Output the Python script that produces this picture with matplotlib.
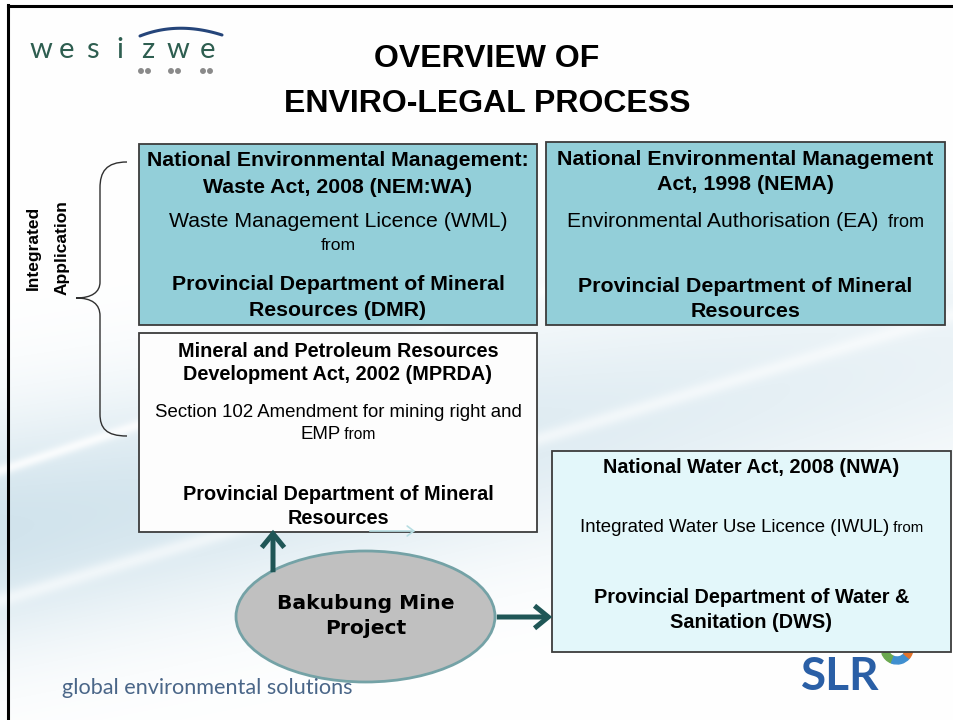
import numpy as np
import matplotlib
matplotlib.use("Agg")
import matplotlib.pyplot as plt
from matplotlib.patches import Rectangle, Ellipse, FancyArrowPatch, Wedge, PathPatch
from matplotlib.path import Path

# ---- slide text ----
title_lines = ["OVERVIEW OF", "ENVIRO-LEGAL PROCESS"]
side_label = ["Integrated", "Application"]

# (text, kind, small tail)
nemwa_lines = [("National Environmental Management:", "b", ""),
               ("Waste Act, 2008 (NEM:WA)", "b", ""),
               ("Waste Management Licence (WML)", "r", ""),
               ("from", "s", ""),
               ("Provincial Department of Mineral", "b", ""),
               ("Resources (DMR)", "b", "")]
nema_lines = [("National Environmental Management", "b", ""),
              ("Act, 1998 (NEMA)", "b", ""),
              ("Environmental Authorisation (EA)", "r", "  from"),
              ("Provincial Department of Mineral", "b", ""),
              ("Resources", "b", "")]
mprda_lines = [("Mineral and Petroleum Resources", "b", ""),
               ("Development Act, 2002 (MPRDA)", "b", ""),
               ("Section 102 Amendment for mining right and", "r", ""),
               ("EMP", "r", " from"),
               ("Provincial Department of Mineral", "b", ""),
               ("Resources", "b", "")]
nwa_lines = [("National Water Act, 2008 (NWA)", "b", ""),
             ("Integrated Water Use Licence (IWUL)", "r", " from"),
             ("Provincial Department of Water &", "b", ""),
             ("Sanitation (DWS)", "b", "")]
project_lines = ["Bakubung Mine", "Project"]
logo_letters = list("wesizwe")
footer = "global environmental solutions"

# ---- layout (pixels) ----
boxes = [
    # x0, y0, x1, y1, fill, lines, baselines, sizes(b, r, s)
    (139, 144, 537, 325, "#93cfd9", nemwa_lines, [166, 193, 227, 250, 290, 316], (15.3, 15.3, 12.6)),
    (546, 142, 945, 325, "#93cfd9", nema_lines, [165, 190, 227, 292, 317], (15.4, 15.2, 13.0)),
    (139, 333, 537, 532, "#fdfdfd", mprda_lines, [357, 380, 417, 439, 500, 524], (14.3, 13.4, 11.2)),
    (552, 451, 951, 652, "#e3f7fa", nwa_lines, [473, 532, 603, 628], (14.3, 13.4, 10.8)),
]

W, H = 954, 720
fig = plt.figure(figsize=(9.54, 7.2), dpi=100)
ax = fig.add_axes([0, 0, 1, 1])
ax.set_xlim(0, W)
ax.set_ylim(H, 0)
ax.axis("off")
renderer = fig.canvas.get_renderer()

# background tint
yy, xx = np.mgrid[0:H, 0:W]
c = 530 - 0.18 * xx
a = np.exp(-((yy - c) / 115.0) ** 2) * (1 - 0.55 * xx / W) * 0.9
streak = np.exp(-((yy - (470 - 0.33 * xx)) / 6.0) ** 2) + 0.7 * np.exp(-((yy - (600 - 0.3 * xx)) / 8.0) ** 2)
a = np.clip(a * (1 - 0.8 * streak), 0, 1)
tint = np.array([0.80, 0.88, 0.92])
img = 1 - a[..., None] * (1 - tint)
ax.imshow(img, extent=(0, W, H, 0), zorder=0, aspect="auto")

# slide frame
ax.plot([8, 8], [5, H], color="black", lw=2.2, zorder=1)
ax.plot([8, W], [5.5, 5.5], color="black", lw=2.2, zorder=1)

FONT = "Liberation Sans"


def put_line(cx, y, text, kind, tail, sizes):
    sb, sr, ss = sizes
    if kind == "b":
        kw = dict(fontsize=sb, fontweight="bold")
    elif kind == "r":
        kw = dict(fontsize=sr)
    else:
        kw = dict(fontsize=ss)
    if not tail:
        ax.text(cx, y, text, ha="center", va="baseline", family=FONT, zorder=5, **kw)
        return
    t1 = ax.text(0, y, text, ha="left", va="baseline", family=FONT, zorder=5, **kw)
    t2 = ax.text(0, y, tail, ha="left", va="baseline", family=FONT, fontsize=ss, zorder=5)
    w1 = t1.get_window_extent(renderer).width
    w2 = t2.get_window_extent(renderer).width
    x0 = cx - (w1 + w2) / 2
    t1.set_x(x0)
    t2.set_x(x0 + w1)


for x0, y0, x1, y1, fill, lines, bases, sizes in boxes:
    ax.add_patch(Rectangle((x0, y0), x1 - x0, y1 - y0, facecolor=fill,
                           edgecolor="#3c3c3c", lw=1.3, zorder=3))
    cx = (x0 + x1) / 2
    for (text, kind, tail), yb in zip(lines, bases):
        put_line(cx, yb, text, kind, tail, sizes)

# title
for text, yb in zip(title_lines, [67, 112]):
    ax.text(487, yb, text, ha="center", va="baseline", family=FONT,
            fontsize=23, fontweight="bold", zorder=5)

# brace
verts = [(127, 162), (106, 162), (100, 172), (100, 188),
         (100, 282),
         (100, 292), (92, 298), (76, 298),
         (92, 298), (100, 304), (100, 316),
         (100, 414),
         (100, 428), (106, 436), (127, 436)]
codes = [Path.MOVETO, Path.CURVE4, Path.CURVE4, Path.CURVE4,
         Path.LINETO,
         Path.CURVE4, Path.CURVE4, Path.CURVE4,
         Path.CURVE4, Path.CURVE4, Path.CURVE4,
         Path.LINETO,
         Path.CURVE4, Path.CURVE4, Path.CURVE4]
ax.add_patch(PathPatch(Path(verts, codes), facecolor="none", edgecolor="#303030", lw=1.0, zorder=4))

for text, x in zip(side_label, [33, 62]):
    ax.text(x, 248, text, ha="center", va="center", rotation=90, family=FONT,
            fontsize=12.5, fontweight="bold", zorder=5)

# project ellipse and arrows
ax.add_patch(Ellipse((365.5, 616.5), 259, 131, facecolor="#c0c0c0",
                     edgecolor="#74a2a6", lw=2.0, zorder=4))
for text, yb in zip(project_lines, [609, 634]):
    ax.text(366, yb, text, ha="center", va="baseline", family="DejaVu Sans",
            fontsize=14.6, fontweight="bold", zorder=5)

arrow_col = "#1f5656"
for p0, p1 in [((273, 575), (273, 527)), ((494, 617), (555, 617))]:
    ax.add_patch(FancyArrowPatch(p0, p1, arrowstyle="->,head_length=0.55,head_width=0.45",
                                 mutation_scale=18, color=arrow_col, lw=3.6,
                                 capstyle="butt", joinstyle="miter", zorder=6))
ax.add_patch(FancyArrowPatch((367, 531), (418, 531), arrowstyle="->,head_length=0.4,head_width=0.3",
                             mutation_scale=12, color="#b7dde2", lw=1.2, zorder=6))

# wesizwe logo
for ch, x in zip(logo_letters, [41, 67, 92, 120, 148, 178, 208]):
    ax.text(x, 58, ch, ha="center", va="baseline", family="Lato",
            fontsize=21, color="#2e5e50", zorder=5)
t = np.linspace(0, 1, 60)
bx = (1 - t) ** 2 * 140 + 2 * (1 - t) * t * 178 + t ** 2 * 222
by = (1 - t) ** 2 * 36 + 2 * (1 - t) * t * 21 + t ** 2 * 35
ax.plot(bx, by, color="#25457a", lw=2.2, solid_capstyle="round", zorder=5)
for dx in [141, 148, 171, 178, 203, 210]:
    ax.add_patch(Ellipse((dx, 71), 4.5, 4.5, color="#8a8a8a", zorder=5))

# footer text
ax.text(62, 694, footer, ha="left", va="baseline", family="Lato", fontsize=15.6,
        color="#4a6688", zorder=5)

# SLR logo
ax.text(801, 690, "SLR", ha="left", va="baseline", family="Lato", fontsize=33,
        fontweight="bold", color="#2a5fa6", zorder=5)
ax.add_patch(Wedge((897, 648), 16, 110, 160, width=7, color="#6aa84f", zorder=2))
ax.add_patch(Wedge((897, 648), 16, 40, 110, width=7, color="#3f8fd0", zorder=2))
ax.add_patch(Wedge((897, 648), 16, 0, 40, width=7, color="#e4742c", zorder=2))

fig.savefig("out.png", dpi=100)
